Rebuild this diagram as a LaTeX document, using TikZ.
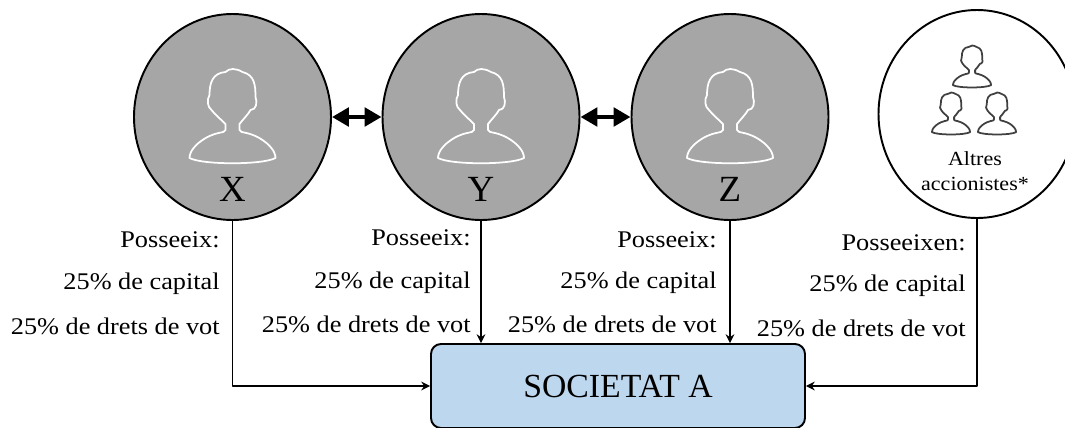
\documentclass[tikz,border=0pt]{standalone}
\usepackage{fontspec}
\setmainfont{Liberation Serif}
\newfontfamily\amplef[FakeStretch=1.1]{Liberation Serif}
\usetikzlibrary{shapes.geometric,arrows.meta}
\definecolor{grisc}{HTML}{A6A6A6}
\definecolor{blauc}{HTML}{BDD7EE}
\def\pxu{*0.02cm}
\tikzset{
	soci/.style={ellipse,draw,line width=1.1pt,fill=grisc,minimum width=197\pxu,minimum height=206\pxu,inner sep=0pt},
	etiq/.style={anchor=east,inner sep=0pt,font=\amplef\fontsize{13.6}{15}\selectfont},
	lletra/.style={inner sep=0pt,font=\fontsize{21}{23}\selectfont},
	doble/.style={{Triangle[length=9.6pt,width=10.4pt]}-{Triangle[length=9.6pt,width=10.4pt]},line width=2.4pt},
}
\newcommand{\iconapers}[4]{% x, y, escala, color
	\draw[#4,line width=1pt,line join=round,shift={(#1,#2)},scale=#3]
	(-7,15) .. controls (-7,19) and (-18,15) .. (-34,28)
	.. controls (-42,35) and (-43,40) .. (-43,43)
	.. controls (-30,50) and (30,50) .. (43,43)
	.. controls (43,40) and (42,35) .. (34,28)
	.. controls (18,15) and (7,19) .. (7,15)
	-- (7,9) .. controls (10,5) and (16,-1) .. (18,-5)
	.. controls (24,-5) and (25,-13) .. (23,-18)
	.. controls (23,-30) and (22,-40) .. (10,-43)
	.. controls (3,-47) and (-3,-47) .. (-7,-43)
	.. controls (-20,-42) and (-23,-32) .. (-23,-20)
	.. controls (-26,-15) and (-25,-8) .. (-21,-5)
	.. controls (-18,-1) and (-11,5) .. (-7,9) -- cycle;
}
\begin{document}
\begin{tikzpicture}[x=0.02cm,y=-0.02cm,>={Stealth[length=5pt,width=5pt]},line join=round]
	\useasboundingbox (0,0) rectangle (1065,427);
	\clip (0,0) rectangle (1065,427);
	% Socis
	\node[soci] (px) at (232.5,117) {};
	\node[soci] (py) at (481,117) {};
	\node[soci] (pz) at (730,117) {};
	\node[soci,fill=white,minimum height=208\pxu] (pa) at (977,114) {};
	\iconapers{232.5}{115}{1}{white}
	\iconapers{481}{115}{1}{white}
	\iconapers{730}{115}{1}{white}
	\iconapers{972}{66}{0.445}{black!75}
	\iconapers{951}{113}{0.445}{black!75}
	\iconapers{997}{113}{0.445}{black!75}
	\node[lletra] (lx) at (232.5,189) {X};
	\node[lletra] (ly) at (481,189) {Y};
	\node[lletra] (lz) at (730,189) {Z};
	\node[inner sep=0pt,align=center,font=\amplef\fontsize{11.4}{14.5}\selectfont] (la) at (975,171) {Altres\\accionistes*};
	% Societat
	\node[draw,line width=1.1pt,fill=blauc,rounded corners=10\pxu,minimum width=374\pxu,minimum height=84\pxu,inner sep=0pt,font=\fontsize{19.2}{22}\selectfont] (soc) at (618,386) {SOCIETAT A};
	% Percentatges
	\foreach \n/\xr/\ya/\yb/\yc/\t in {x/220/240/284/326/Posseeix:,y/471/238/283/324/Posseeix:,z/717/240/283/324/Posseeix:,a/966/243/286/328/Posseeixen:}{
		\node[etiq] (t1\n) at (\xr,\ya) {\t};
		\node[etiq] (t2\n) at (\xr,\yb) {25\% de capital};
		\node[etiq] (t3\n) at (\xr,\yc) {25\% de drets de vot};
	}
	% Fletxes
	\draw[->,line width=.8pt] (px.south) |- (soc.west);
	\draw[->,line width=.8pt] (py.south) -- (py.south |- soc.north);
	\draw[->,line width=.8pt] (pz.south) -- (pz.south |- soc.north);
	\draw[->,line width=.8pt] (pa.south) |- (soc.east);
	\draw[doble] (px.east) -- (py.west);
	\draw[doble] (py.east) -- (pz.west);
\end{tikzpicture}
\end{document}
